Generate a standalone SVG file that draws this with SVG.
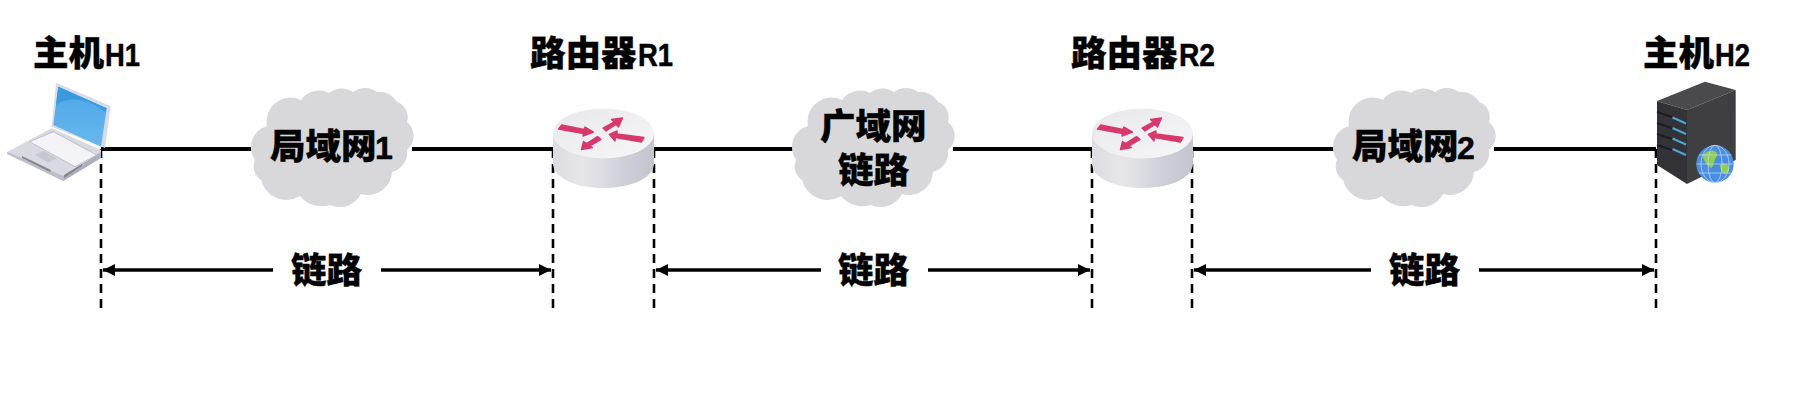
<svg xmlns="http://www.w3.org/2000/svg" width="1808" height="408" viewBox="0 0 1808 408">
<style>
text{font-family:"Noto Sans CJK SC","Liberation Sans",sans-serif;font-size:35.500px;font-weight:900;fill:#000;stroke:#000;stroke-width:.4}
.lat{font-family:"Liberation Sans",sans-serif;font-weight:700;font-size:32px;stroke-width:.5}
.wire{stroke:#000;stroke-width:4;fill:none}
.dash{stroke:#000;stroke-width:2.600;stroke-dasharray:9 6;fill:none}
.dim{stroke:#000;stroke-width:3.600;fill:none}
.cloud{fill:#d8d8da}
.ra{fill:#d7396c;stroke:#d7396c;stroke-width:1.400;stroke-linejoin:round}
</style>
<defs>
<marker id="ah" viewBox="0 0 12 12" refX="12" refY="6" markerWidth="12" markerHeight="12" markerUnits="userSpaceOnUse" orient="auto-start-reverse"><path d="M0 0L12 6L0 12z" fill="#000"/></marker>
<linearGradient id="rb" x1="0" x2="1" y1="0" y2="0"><stop offset="0" stop-color="#dcdce2"/><stop offset=".3" stop-color="#e6e6ea"/><stop offset=".7" stop-color="#cfcfd8"/><stop offset="1" stop-color="#c4c4cf"/></linearGradient>
<linearGradient id="rt" x1="0" x2="1" y1="0" y2="1"><stop offset="0" stop-color="#e8e8ec"/><stop offset="1" stop-color="#f7f7f8"/></linearGradient>
<linearGradient id="scr" x1="0" x2="0" y1="0" y2="1"><stop offset="0" stop-color="#4aa6e6"/><stop offset="1" stop-color="#69b8ee"/></linearGradient>
<path id="cl" d="M4 72A22 22 0 0 1 16 38A24 24 0 0 1 50 12A22 22 0 0 1 78 5A20 20 0 0 1 102 4A20 20 0 0 1 126 4A20 20 0 0 1 146 14A16 16 0 0 1 156 34A18 18 0 0 1 156 62A20 20 0 0 1 141 84A24 24 0 0 1 110 106A24 24 0 0 1 79 117A28 28 0 0 1 49 108A26 26 0 0 1 10 92A16 16 0 0 1 4 72z"/>
<g id="rtr">
<path d="M553 133V163C553 178 576 188 603.500 188S654 178 654 163V133z" fill="url(#rb)"/>
<ellipse cx="603.500" cy="133.500" rx="50.500" ry="25" fill="url(#rt)"/>
<polygon class="ra" points="561.700,125 584,129.500 585,127 593.500,132 583,136 583.500,133.500 558.500,129"/>
<polygon class="ra" points="622.500,118 611.500,119.500 614,122 603,128 606,131 616,124.500 618.500,127"/>
<polygon class="ra" points="609.300,134.300 617,131 617,134 644,137.500 641.500,142 615.500,137.500 615,141"/>
<polygon class="ra" points="581.500,149.500 583.500,141.500 586.500,143.500 597.500,136.500 601,139.500 590,146 592.500,147.500"/>
</g>
</defs>
<rect width="1808" height="408" fill="#fff"/>
<g id="connectors">
<path class="wire" d="M101 149H252M412 149H553M654 149H793M953 149H1092M1192 149H1334M1494 149H1656"/>
<path class="dash" d="M101 149V311M553 149V311M654 149V311M1092 149V311M1192 149V311M1656 149V311"/>
<path class="dim" marker-start="url(#ah)" d="M103 270H273"/><path class="dim" marker-end="url(#ah)" d="M381 270H551"/>
<path class="dim" marker-start="url(#ah)" d="M656 270H821"/><path class="dim" marker-end="url(#ah)" d="M928 270H1090"/>
<path class="dim" marker-start="url(#ah)" d="M1194 270H1371"/><path class="dim" marker-end="url(#ah)" d="M1479 270H1654"/>
</g>
<g id="host-h1">
<polygon points="7.300,151.700 51.700,128.300 101,150 101,158 63.300,180.700 7.300,154" fill="#d9dae1"/>
<polygon points="7.300,152 63.300,176 63.300,181 7.300,154" fill="#bcbec7"/>
<polygon points="63.300,176 101,152 101,158 63.300,181" fill="#aeb0b9"/>
<polygon points="22,156 51,170 50,172 22,158" fill="#85878e"/>
<polygon points="64,175 82,164 82,166 64,178" fill="#85878e"/>
<polygon points="29.300,141.700 53.300,131.700 96.700,155 75,166.700" fill="#f3f3f8" stroke="#bfc0c9"/>
<polygon points="35,155 43.300,151 56.700,158.300 48.300,162.700" fill="#c6c8d0"/>
<polygon points="56,82.700 110.700,106 105,148 51.700,126.700" fill="#d5dbe7"/>
<polygon points="58.300,86.700 106.700,108.300 101,146.700 53.300,125" fill="url(#scr)"/>
<path d="M56 105C68 96 88 98 105 112L106.700 108.300L58.300 86.700z" fill="#3b9adf"/>
<text x="33" y="66">主机<tspan class="lat" x="105" y="66" textLength="35" lengthAdjust="spacingAndGlyphs">H1</tspan></text>
</g>
<g id="cloud-lan1"><use href="#cl" x="251" y="88" class="cloud"/><text x="270" y="159">局域网<tspan class="lat" x="375">1</tspan></text></g>
<g id="router-r1"><use href="#rtr"/><text x="530" y="66">路由器<tspan class="lat" x="638" textLength="35" lengthAdjust="spacingAndGlyphs">R1</tspan></text></g>
<g id="cloud-wan"><use href="#cl" x="792" y="88" class="cloud"/><text x="820" y="139">广域网</text><text x="838" y="183">链路</text></g>
<g id="router-r2"><use href="#rtr" x="539"/><text x="1071" y="66">路由器<tspan class="lat" x="1179" textLength="36" lengthAdjust="spacingAndGlyphs">R2</tspan></text></g>
<g id="cloud-lan2"><use href="#cl" x="1333" y="88" class="cloud"/><text x="1352" y="159">局域网<tspan class="lat" x="1457">2</tspan></text></g>
<g id="host-h2">
<polygon points="1657,101 1705,81.700 1735.700,90 1687,110" fill="#4a4a4d"/>
<polygon points="1657,101 1687,110 1687,184 1657,165" fill="#333337"/>
<polygon points="1687,110 1735.700,90 1735.700,160 1687,184" fill="#3f3f42"/>
<g fill="none" stroke-width="2"><path stroke="#1d1d20" d="M1657 112L1672 117M1657 123L1672 128M1657 134L1672 139M1657 145L1672 150"/>
<path stroke="#4aa7d6" d="M1672.500 117.500L1686 123.500M1672.500 128L1686 134M1672.500 138.500L1686 144.500M1672.500 149L1686 155"/></g>
<circle cx="1715" cy="164" r="18.700" fill="#4a8de0"/>
<path d="M1703 155C1710 148 1718 150 1717 156C1713 160 1715 166 1711 168C1707 165 1703 161 1703 155zM1720 165C1725 162 1731 165 1729 171C1726 176 1721 175 1720 165z" fill="#8fcf4f"/>
<g fill="none" stroke="#b9d6f5" stroke-width=".8"><ellipse cx="1715" cy="164" rx="7" ry="18.700"/><ellipse cx="1715" cy="164" rx="14" ry="18.700"/><path d="M1696.500 164H1733.500M1699 155H1731M1699 173H1731"/></g>
<text x="1643" y="66">主机<tspan class="lat" x="1715" textLength="35" lengthAdjust="spacingAndGlyphs">H2</tspan></text>
</g>
<g id="labels"><text x="291" y="283">链路</text><text x="838" y="283">链路</text><text x="1389" y="283">链路</text></g>
</svg>
